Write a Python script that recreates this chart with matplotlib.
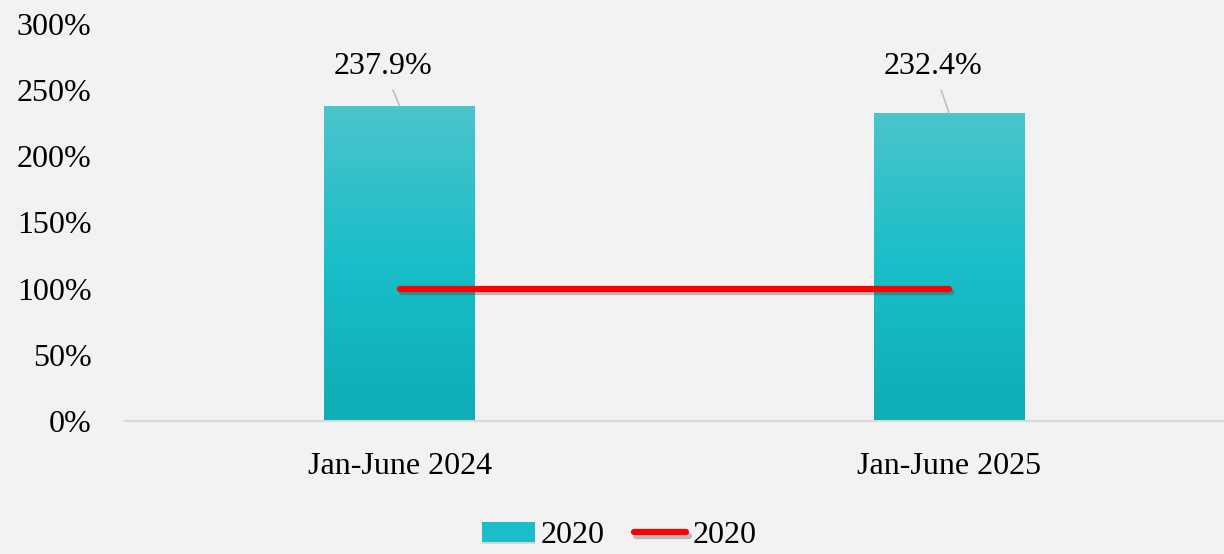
import matplotlib.pyplot as plt
import matplotlib.patheffects as pe
import numpy as np
from matplotlib.colors import LinearSegmentedColormap
from matplotlib.ticker import FuncFormatter

plt.rcParams['font.family'] = ['Liberation Serif', 'DejaVu Serif']

categories = ["Jan-June 2024", "Jan-June 2025"]
bar_values = [237.9, 232.4]
line_values = [100, 100]
bar_label = "2020"
line_label = "2020"
yticks = [0, 50, 100, 150, 200, 250, 300]

bg = "#f2f2f2"
fig = plt.figure(figsize=(12.24, 5.54), dpi=100, facecolor=bg)
ax = fig.add_axes([0.102, 0.240, 0.898, 0.717], facecolor=bg)

x = np.arange(len(categories))
width = 0.274
grad = LinearSegmentedColormap.from_list("teal", ["#0fadb5", "#19bec8", "#4bc4cc"])

bars = ax.bar(x, bar_values, width, color="#19bec8", label=bar_label, zorder=2, linewidth=0,
              path_effects=[pe.SimplePatchShadow(offset=(0, -1.5), alpha=0.12, shadow_rgbFace="#000000"), pe.Normal()])
g = np.linspace(0, 1, 256).reshape(-1, 1)
for b in bars:
    x0, y0 = b.get_x(), b.get_y()
    im = ax.imshow(g, cmap=grad, origin="lower", aspect="auto",
                   extent=(x0, x0 + b.get_width(), y0, y0 + b.get_height()), zorder=2.5)
    im.set_clip_path(b)

ax.plot(x, line_values, color="#ff0000", lw=4.5, solid_capstyle="round", label=line_label, zorder=3,
        path_effects=[pe.SimpleLineShadow(offset=(1.5, -2.5), alpha=0.3, shadow_color="#333333"), pe.Normal()])

label_y = max(bar_values) + 30
for xi, v in zip(x, bar_values):
    ax.annotate(f"{v:.1f}%", xy=(xi, v), xytext=(xi - 0.03, label_y), ha="center", va="center",
                fontsize=23, color="#000000",
                arrowprops=dict(arrowstyle="-", color="#bfbfbf", lw=1.2, shrinkA=5, shrinkB=0))

ax.set_xlim(-0.5, 1.5)
ax.set_ylim(0, 300)
ax.set_yticks(yticks)
ax.yaxis.set_major_formatter(FuncFormatter(lambda v, p: f"{v:.0f}%"))
ax.set_xticks(x)
ax.set_xticklabels(categories)
ax.tick_params(axis="both", length=0, labelsize=23, colors="#000000")
ax.tick_params(axis="x", pad=22)
ax.tick_params(axis="y", pad=24)
for s in ["top", "right", "left"]:
    ax.spines[s].set_visible(False)
ax.spines["bottom"].set_color("#d9d9d9")
ax.spines["bottom"].set_linewidth(1.5)

handles, labels = ax.get_legend_handles_labels()
handles = [handles[1], handles[0]]
labels = [labels[1], labels[0]]
leg = fig.legend(handles, labels, loc="lower center", bbox_to_anchor=(0.506, -0.045), ncol=2,
                 frameon=False, fontsize=23, handlelength=1.65, handleheight=0.6, handletextpad=0.2,
                 columnspacing=0.9)

fig.savefig("out.png", dpi=100, facecolor=bg)
